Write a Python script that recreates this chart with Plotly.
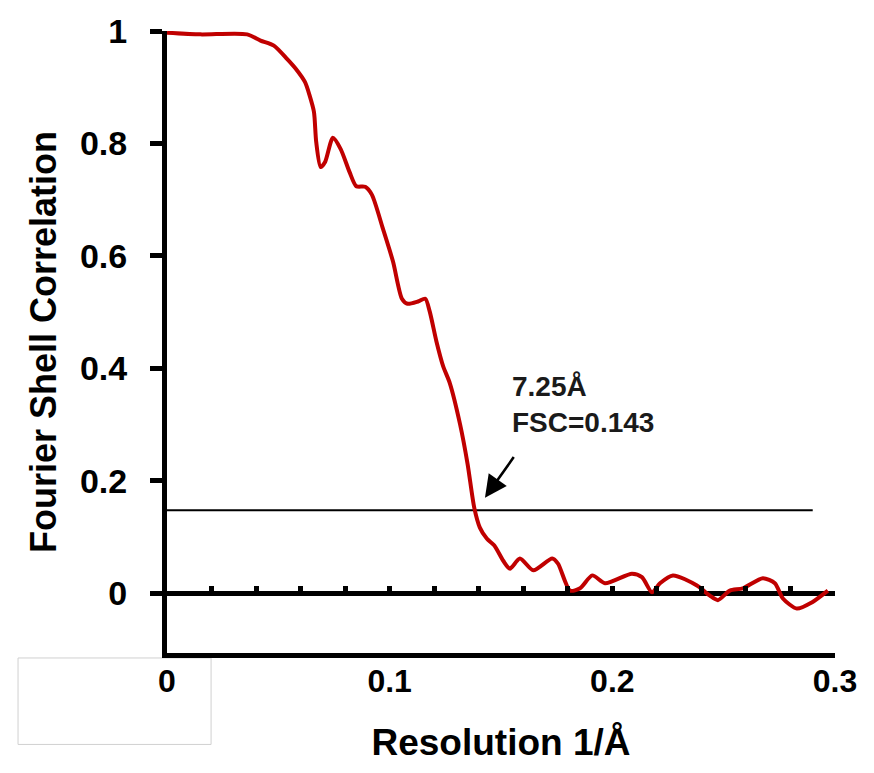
import plotly.graph_objects as go

# ---- data ----
res_x = [0, 0.015, 0.036, 0.042, 0.048, 0.054, 0.058, 0.062, 0.064, 0.066, 0.067,
         0.069, 0.071, 0.0745, 0.078, 0.082, 0.085, 0.089, 0.092, 0.097, 0.1015,
         0.1055, 0.108, 0.1127, 0.116, 0.118, 0.121, 0.124, 0.127, 0.1316, 0.135,
         0.138, 0.1405, 0.1437, 0.147, 0.151, 0.154, 0.1585, 0.1645, 0.173, 0.1756,
         0.181, 0.1855, 0.191, 0.1967, 0.2088, 0.2133, 0.2178, 0.2214, 0.2272, 0.238,
         0.2438, 0.2474, 0.2528, 0.2586, 0.2676, 0.273, 0.2766, 0.2829, 0.2896, 0.2968]
fsc_y = [0.997, 0.994, 0.994, 0.983, 0.974, 0.950, 0.932, 0.909, 0.886, 0.856, 0.803,
         0.758, 0.767, 0.810, 0.790, 0.749, 0.724, 0.723, 0.709, 0.648, 0.590,
         0.524, 0.515, 0.519, 0.524, 0.501, 0.448, 0.404, 0.374, 0.301, 0.230,
         0.152, 0.117, 0.097, 0.085, 0.058, 0.044, 0.062, 0.041, 0.062, 0.053,
         0.005, 0.009, 0.032, 0.018, 0.035, 0.029, 0.002, 0.018, 0.032, 0.014,
         -0.004, -0.012, 0.005, 0.009, 0.027, 0.018, -0.009, -0.027, -0.016, 0.005]

threshold_x = [0, 0.29]
threshold_y = [0.148, 0.148]

x_ticks = [0, 0.1, 0.2, 0.3]
x_tick_text = ["0", "0.1", "0.2", "0.3"]
y_ticks = [0, 0.2, 0.4, 0.6, 0.8, 1.0]
y_tick_text = ["0", "0.2", "0.4", "0.6", "0.8", "1"]

x_title = "Resolution 1/Å"
y_title = "Fourier Shell Correlation"
note_text = "7.25Å<br>FSC=0.143"

X_RANGE = [0, 0.3]
Y_RANGE = [-0.106, 1.0]

FONT = "Arial, 'Liberation Sans', sans-serif"

fig = go.Figure()
fig.add_trace(go.Scatter(x=threshold_x, y=threshold_y, mode="lines",
                         line=dict(color="black", width=2), hoverinfo="skip",
                         showlegend=False))
fig.add_trace(go.Scatter(x=res_x, y=fsc_y, mode="lines",
                         line=dict(color="#C00000", width=4, shape="spline", smoothing=0.7),
                         cliponaxis=False, showlegend=False))
# invisible trace on the secondary axis that carries the minor ticks along y=0
fig.add_trace(go.Scatter(x=X_RANGE, y=[0, 0], xaxis="x2", mode="lines",
                         line=dict(width=0), hoverinfo="skip", showlegend=False))

zero_pos = (0 - Y_RANGE[0]) / (Y_RANGE[1] - Y_RANGE[0])

fig.update_layout(
    width=874, height=773,
    margin=dict(l=167, r=39, t=26, b=120),
    plot_bgcolor="white", paper_bgcolor="white",
    font=dict(family=FONT, color="black"),
    xaxis=dict(range=X_RANGE, showgrid=False, zeroline=False,
               showline=True, linewidth=5, linecolor="black",
               ticks="", tickvals=x_ticks, ticktext=x_tick_text,
               ticklabelstandoff=-4,
               tickfont=dict(size=32, weight="bold", family=FONT),
               title=dict(text=x_title, standoff=32,
                          font=dict(size=37, weight="bold", family=FONT))),
    xaxis2=dict(range=X_RANGE, overlaying="x", anchor="free", position=zero_pos,
                side="bottom", showgrid=False, zeroline=False, showline=False,
                ticks="inside", ticklen=7, tickwidth=5, tickcolor="black",
                tick0=0, dtick=0.02, showticklabels=False),
    yaxis=dict(range=Y_RANGE, showgrid=False,
               zeroline=True, zerolinewidth=5, zerolinecolor="black",
               showline=True, linewidth=5, linecolor="black",
               ticks="outside", ticklen=12, tickwidth=5, tickcolor="black",
               tickvals=y_ticks, ticktext=y_tick_text,
               ticklabelstandoff=16,
               tickfont=dict(size=34, weight="bold", family=FONT),
               title=dict(text=y_title, standoff=14,
                          font=dict(size=36, weight="bold", family=FONT))),
    annotations=[
        dict(x=0.1428, y=0.170, xref="x", yref="y",
             ax=0.1562, ay=0.245, axref="x", ayref="y",
             text="", showarrow=True, arrowhead=2, arrowsize=1.7,
             arrowwidth=2.6, arrowcolor="black"),
        dict(x=0.154, y=0.335, xref="x", yref="y", xanchor="left", yanchor="middle",
             text=note_text, showarrow=False, align="left",
             font=dict(size=28, weight="bold", family=FONT, color="#1a1a1a")),
    ],
    shapes=[
        dict(type="rect", xref="paper", yref="paper",
             x0=-0.223, x1=0.066, y0=-0.147, y1=-0.008,
             line=dict(color="#d0d0d0", width=1), fillcolor="rgba(0,0,0,0)",
             layer="below"),
    ],
)

fig.write_html("out.html")
